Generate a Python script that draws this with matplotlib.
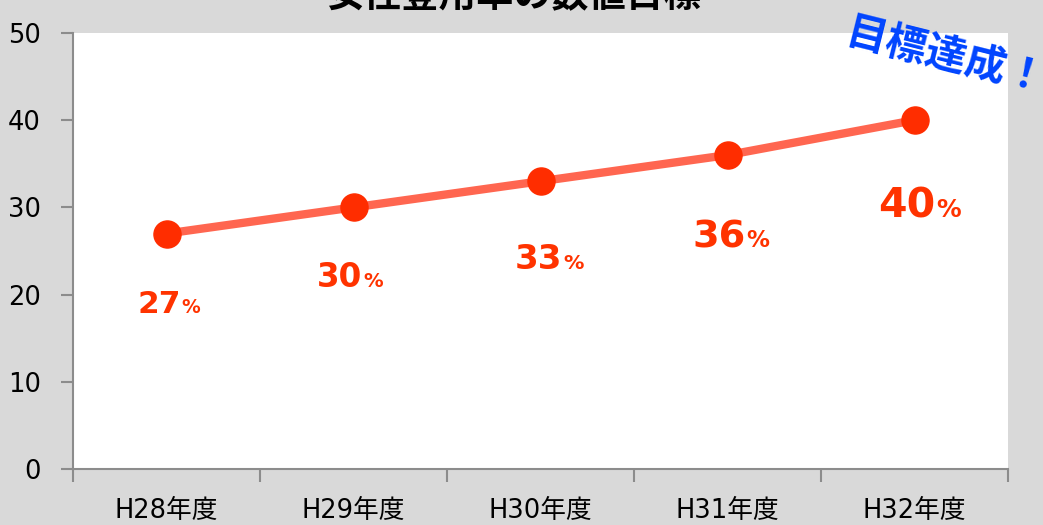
import matplotlib
matplotlib.use("Agg")
import matplotlib.pyplot as plt

# ---- data ----
categories = ["H28年度", "H29年度", "H30年度", "H31年度", "H32年度"]
values = [27, 30, 33, 36, 40]
value_labels = ["27", "30", "33", "36", "40"]
title = "女性登用率の数値目標"
callout = "目標達成！"
y_ticks = [0, 10, 20, 30, 40, 50]

# ---- style ----
label_sizes = [22.5, 23.5, 24.5, 27.5, 29.5]
label_dx = [14, 9, 22, 18, 21]          # pixels
label_dy = [-79, -80, -88, -92, -97]    # pixels (baseline offset)

plt.rcParams['font.family'] = ['DejaVu Sans', 'Noto Sans CJK JP']
BG = "#d9d9d9"
LINE_C = "#ff6650"
MARK_C = "#ff2d00"
LAB_C = "#ff3300"
SPINE_C = "#8c8c8c"

fig = plt.figure(figsize=(10.43, 5.25), dpi=100, facecolor=BG)
ax = fig.add_axes([73/1043, 56/525, 935/1043, 436/525])
ax.set_facecolor("white")

x = list(range(len(categories)))
ax.plot(x, values, color=LINE_C, lw=6, zorder=2, solid_capstyle='butt')
ax.plot(x, values, 'o', color=MARK_C, ms=19.5, zorder=3, mec=MARK_C)

ax.set_xlim(-0.5, len(categories) - 0.5)
ax.set_ylim(0, 50)
ax.set_yticks(y_ticks)
ax.set_xticks([i - 0.5 for i in range(len(categories) + 1)], minor=False)
ax.set_xticklabels([])
ax.set_xticks(x, minor=True)
ax.set_xticklabels(categories, minor=True)
ax.tick_params(axis='x', which='minor', length=0, pad=21, labelsize=18.5)
ax.tick_params(axis='x', which='major', length=9, width=1.5, color=SPINE_C)
ax.tick_params(axis='y', length=9, width=1.5, color=SPINE_C, pad=14, labelsize=18.5)
for s in ['top', 'right']:
    ax.spines[s].set_visible(False)
for s in ['left', 'bottom']:
    ax.spines[s].set_color(SPINE_C)
    ax.spines[s].set_linewidth(1.5)

for i, v in enumerate(values):
    ax.annotate(value_labels[i], (i, v), xytext=(label_dx[i], label_dy[i]),
                textcoords='offset pixels', ha='right', va='baseline',
                fontsize=label_sizes[i], fontweight='bold', color=LAB_C,
                family=['DejaVu Sans'], annotation_clip=False)
    ax.annotate("%", (i, v), xytext=(label_dx[i] + 1, label_dy[i]),
                textcoords='offset pixels', ha='left', va='baseline',
                fontsize=label_sizes[i] * 0.6, fontweight='bold', color=LAB_C,
                family=['DejaVu Sans'], annotation_clip=False)

fig.text(514/1043, 1 - 7/525, title, ha='center', va='baseline',
         fontsize=27, fontweight='bold', color='black',
         family=['Noto Sans CJK JP'])
fig.text(946/1043, 1 - 57/525, callout, ha='center', va='center',
         rotation=-14, rotation_mode='anchor', fontsize=29.5, fontweight='bold',
         color="#0044ff", family=['Noto Sans CJK JP'])

fig.savefig("out.png", dpi=100, facecolor=BG)
